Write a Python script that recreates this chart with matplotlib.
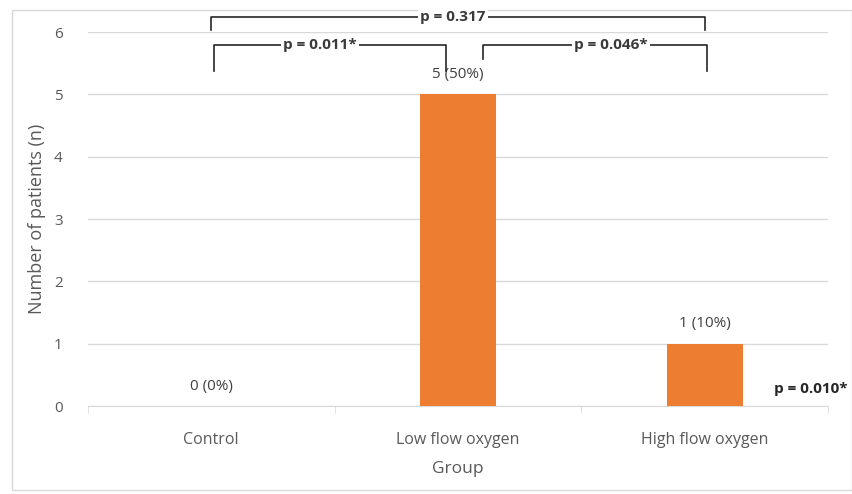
import matplotlib.pyplot as plt
from matplotlib.patches import Rectangle

plt.rcParams['font.family'] = ['Open Sans', 'DejaVu Sans']

# data
groups = ['Control', 'Low flow oxygen', 'High flow oxygen']
patients = [0, 5, 1]
labels = ['0 (0%)', '5 (50%)', '1 (10%)']

fig = plt.figure(figsize=(8.53, 4.94), dpi=100)
ax = fig.add_axes([0.103, 0.178, 0.868, 0.757])

# chart border like the Excel frame
fig.patches.append(Rectangle((0.014, 0.008), 0.985, 0.972, transform=fig.transFigure,
                             fill=False, edgecolor='#d9d9d9', linewidth=1, zorder=-1))

x = range(len(groups))
ax.bar(x, patients, width=0.31, color='#ED7D31', zorder=3)

for i, (v, lab) in enumerate(zip(patients, labels)):
    ax.text(i, v + 0.2, lab, ha='center', va='bottom', fontsize=11, color='#404040')

ax.set_xlim(-0.5, 2.5)
ax.set_ylim(0, 6)
ax.set_yticks(range(7))
ax.set_xticks(list(x))
ax.set_xticklabels(groups, fontsize=11.5, color='#595959')
ax.tick_params(axis='x', length=0, pad=19)
ax.tick_params(axis='y', length=0, pad=18, labelcolor='#595959', labelsize=11)
ax.set_xticks([-0.5, 0.5, 1.5, 2.5], minor=True)
ax.tick_params(axis='x', which='minor', length=5, color='#d9d9d9')
ax.grid(axis='y', color='#d9d9d9', linewidth=1, zorder=0)
for s in ['left', 'right', 'top']:
    ax.spines[s].set_visible(False)
ax.spines['bottom'].set_color('#d9d9d9')

ax.set_xlabel('Group', fontsize=12.5, color='#595959', labelpad=9)
ax.set_ylabel('Number of patients (n)', fontsize=13, color='#595959', labelpad=6)

# significance brackets
lc = '#262626'
def bracket(x0, x1, y, yl, yr, txt, tx):
    ax.plot([x0, x0, x1, x1], [yl, y, y, yr], color=lc, lw=1.2, clip_on=False, zorder=4)
    ax.text(tx, y, txt, ha='center', va='center', fontsize=11, fontweight='bold',
            color='#3a3a3a', clip_on=False, zorder=5,
            bbox=dict(facecolor='white', edgecolor='none', pad=1.5))

bracket(0.01, 0.95, 5.79, 5.38, 5.38, 'p = 0.011*', 0.44)
bracket(1.10, 2.01, 5.79, 5.57, 5.38, 'p = 0.046*', 1.62)
bracket(0.0, 2.0, 6.25, 6.03, 6.03, 'p = 0.317', 0.98)

ax.text(2.43, 0.27, 'p = 0.010*', ha='center', va='center', fontsize=11,
        fontweight='bold', color='#262626', clip_on=False)

fig.savefig('out.png', dpi=100)
